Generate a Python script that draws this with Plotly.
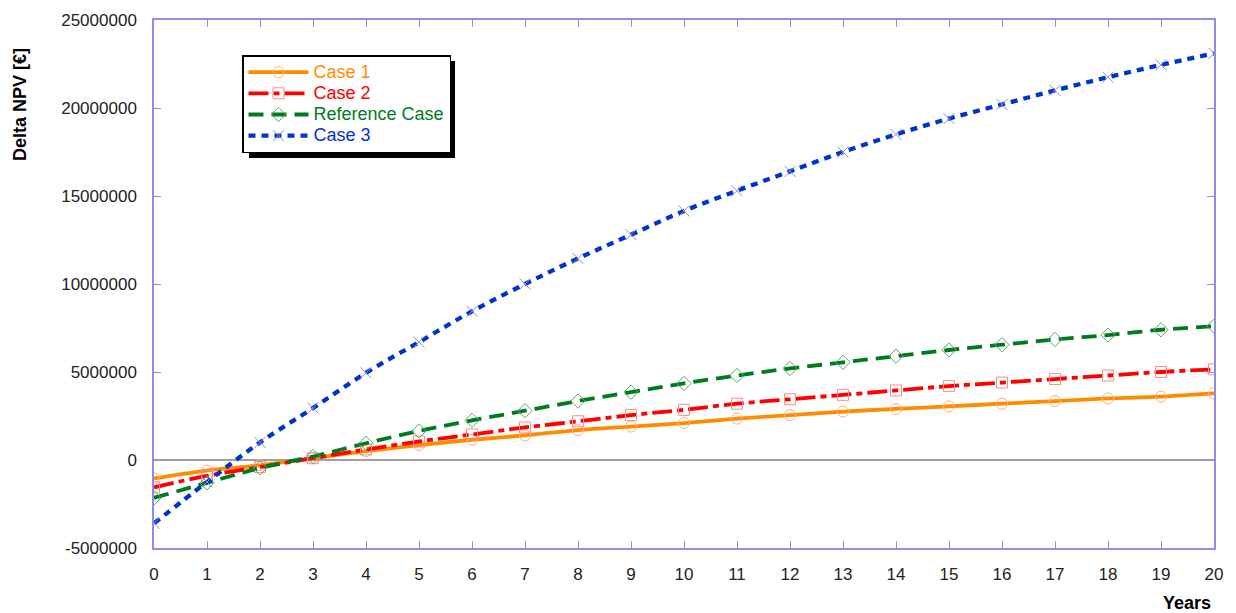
import plotly.graph_objects as go

years = list(range(21))
case1 = [-1.05e6, -0.6e6, -0.3e6, 0.1e6, 0.5e6, 0.85e6, 1.15e6, 1.4e6, 1.7e6, 1.9e6, 2.1e6,
         2.35e6, 2.55e6, 2.75e6, 2.9e6, 3.05e6, 3.2e6, 3.35e6, 3.5e6, 3.6e6, 3.78e6]
case2 = [-1.55e6, -0.9e6, -0.4e6, 0.1e6, 0.6e6, 1.05e6, 1.45e6, 1.85e6, 2.2e6, 2.55e6, 2.85e6,
         3.2e6, 3.45e6, 3.7e6, 3.95e6, 4.2e6, 4.4e6, 4.6e6, 4.8e6, 5.0e6, 5.15e6]
ref_case = [-2.15e6, -1.3e6, -0.45e6, 0.2e6, 0.95e6, 1.65e6, 2.25e6, 2.8e6, 3.35e6, 3.85e6, 4.35e6,
            4.8e6, 5.2e6, 5.55e6, 5.9e6, 6.25e6, 6.55e6, 6.85e6, 7.1e6, 7.4e6, 7.6e6]
case3 = [-3.6e6, -1.25e6, 1.0e6, 2.95e6, 4.95e6, 6.7e6, 8.45e6, 10.0e6, 11.45e6, 12.8e6, 14.15e6,
         15.3e6, 16.4e6, 17.5e6, 18.5e6, 19.4e6, 20.2e6, 21.0e6, 21.75e6, 22.45e6, 23.1e6]

ytick_vals = [-5000000, 0, 5000000, 10000000, 15000000, 20000000, 25000000]
ytick_text = ["-5000000", "0", "5000000", "10000000", "15000000", "20000000", "25000000"]

series = [
    ("Case 1", case1, "#FF8C00", "#FFB07A", "solid", "circle-open", 3.8),
    ("Case 2", case2, "#FF0000", "#FF8A8A", "20px,5px,6px,5px", "square-open", 3.8),
    ("Reference Case", ref_case, "#007A1E", "#55AA66", "15px,8px", "diamond-open", 3.8),
    ("Case 3", case3, "#0033CC", "#8A8AE0", "7px,6px", "x-thin-open", 4.3),
]

fig = go.Figure()
for name, vals, lc, mc, dash, sym, w in series:
    fig.add_trace(go.Scatter(
        x=years, y=vals, mode="lines+markers",
        name=f"<span style='color:{lc};font-size:18px'>{name}</span>",
        line=dict(color=lc, width=w, dash=dash, shape="spline"),
        marker=dict(symbol=sym, size=11, color=mc, line=dict(color=mc, width=1)),
    ))

# page has an 8px body margin; figure is shrunk and margins shifted to compensate
W, H = 1228, 605
PL, PR, PT, PB = 154, 1214, 20, 548  # plot area in page pixels
PW, PH = PR - PL, PB - PT
def px(xp):
    return (xp - PL) / PW
def py(yp):
    return (PB - yp) / PH

LEG_L, LEG_T, LEG_R, LEG_B = 243, 55, 450, 153

axcol = "#8C8CE6"
fig.update_layout(
    width=W, height=H,
    margin=dict(l=PL - 8, r=W - (PR - 8), t=PT - 8, b=H - (PB - 8), autoexpand=False),
    paper_bgcolor="white", plot_bgcolor="white",
    font=dict(family="Arial, Liberation Sans, sans-serif", size=17, color="#222"),
    showlegend=True,
    legend=dict(x=px(LEG_L - 1), y=py(LEG_T), xanchor="left", yanchor="top",
                bgcolor="white", bordercolor="black", borderwidth=1.5,
                font=dict(size=14), itemwidth=60, tracegroupgap=0),
    xaxis=dict(range=[0, 20], tickvals=years, showgrid=False, zeroline=False,
               showline=True, linecolor=axcol, linewidth=1.5, mirror="ticks",
               ticks="inside", ticklen=7, tickcolor=axcol, tickwidth=1,
               ticklabelstandoff=10, automargin=False),
    yaxis=dict(range=[-5e6, 25e6], tickvals=ytick_vals, ticktext=ytick_text,
               showgrid=False, zeroline=True, zerolinecolor="#A0A0A0", zerolinewidth=1.5,
               showline=True, linecolor=axcol, linewidth=1.5, mirror="ticks",
               ticks="inside", ticklen=7, tickcolor=axcol, tickwidth=1,
               ticklabelstandoff=12, automargin=False),
    annotations=[
        dict(text="<b>Delta NPV [€]</b>", xref="paper", yref="paper",
             x=px(20), y=py(105), xanchor="center", yanchor="middle",
             textangle=-90, showarrow=False,
             font=dict(size=18, color="black")),
        dict(text="<b>Years</b>", xref="paper", yref="paper",
             x=px(1213), y=py(603), xanchor="right", yanchor="middle", showarrow=False,
             font=dict(size=18, color="black")),
    ],
    shapes=[
        dict(type="rect", xref="paper", yref="paper",
             x0=px(LEG_L + 6), x1=px(LEG_R + 5),
             y0=py(LEG_B + 5), y1=py(LEG_T + 6),
             fillcolor="black", line=dict(width=0), layer="above"),
    ],
)

fig.write_html("out.html")
